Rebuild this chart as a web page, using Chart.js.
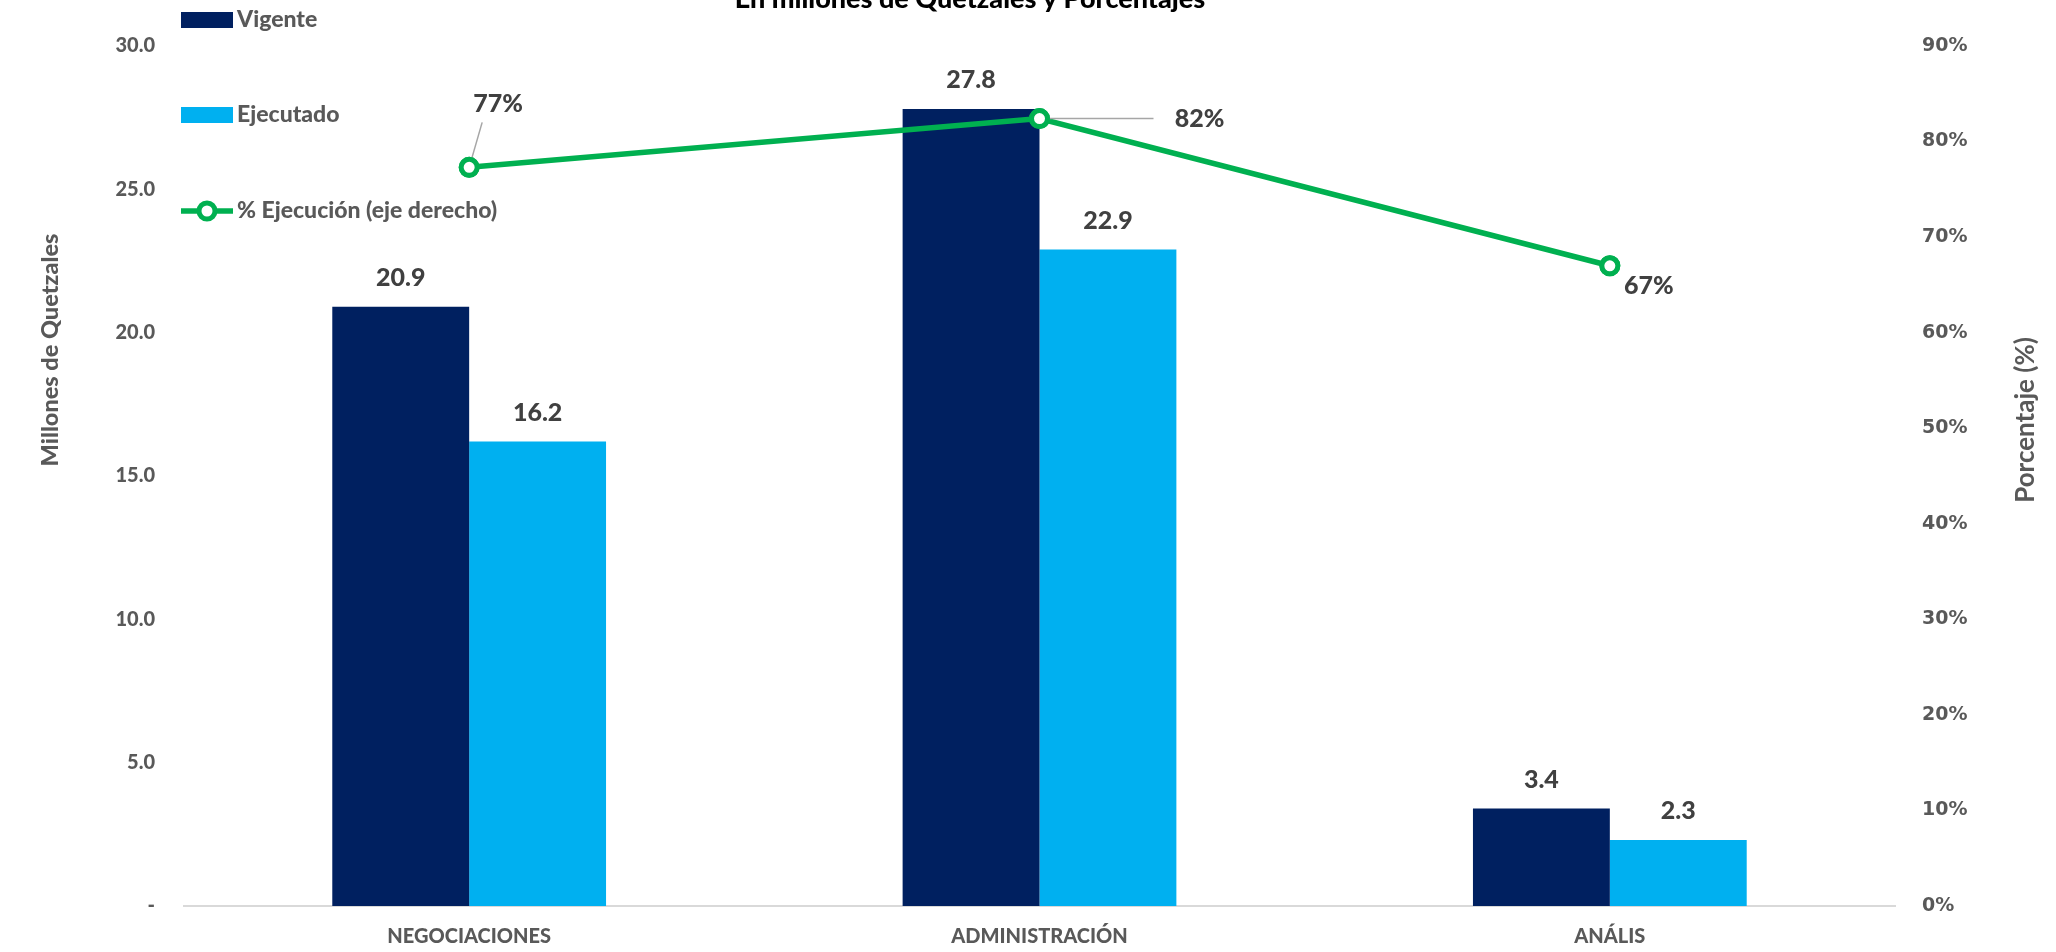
<!DOCTYPE html>
<html>
<head>
<meta charset="utf-8">
<script src="https://cdn.jsdelivr.net/npm/chart.js@4.4.1/dist/chart.umd.min.js"></script>
<style>
  html, body { margin: 0; padding: 0; background: #fff; }
  #wrap { width: 2056px; height: 952px; position: relative; }
</style>
</head>
<body>
<div id="wrap"><canvas id="chart"></canvas></div>
<script>
// Data
const categories = ['NEGOCIACIONES', 'ADMINISTRACIÓN', 'ANÁLIS'];
const vigente = [20.9, 27.8, 3.4];
const ejecutado = [16.2, 22.9, 2.3];
const ejecucionPct = [77.3, 82.4, 67.0];
const seriesNames = ['Vigente', 'Ejecutado', '% Ejecución (eje derecho)'];
const chartTitle = 'En millones de Quetzales y Porcentajes';
const leftTitle = 'Millones de Quetzales';
const rightTitle = 'Porcentaje (%)';

// Colors
const NAVY = '#002060';
const CYAN = '#00B0F0';
const GREEN = '#00B050';
const GREY_TXT = '#595959';
const DARK_TXT = '#404040';
const FONT = 'Lato, "Open Sans", sans-serif';

// offsets of the % labels relative to their point, and leader line ends
const pctLabelOffsets = [[29, -63], [160, 0], [39, 20]];
const pctLeaders = [[13, -45], [114, 0], null];

const decorPlugin = {
    id: 'decor',
    afterDatasetsDraw(chart) {
        const ctx = chart.ctx;
        ctx.save();

        // bar value labels
        ctx.font = `900 25px ${FONT}`;
        ctx.fillStyle = DARK_TXT;
        ctx.textAlign = 'center';
        ctx.textBaseline = 'middle';
        [1, 2].forEach(i => {
            chart.getDatasetMeta(i).data.forEach((bar, j) => {
                const v = chart.data.datasets[i].data[j];
                ctx.fillText(v.toFixed(1), bar.x, bar.y - 29);
            });
        });

        // % labels with leader lines
        chart.getDatasetMeta(0).data.forEach((pt, j) => {
            const lead = pctLeaders[j];
            if (lead) {
                ctx.strokeStyle = '#A6A6A6';
                ctx.lineWidth = 1.5;
                ctx.beginPath();
                ctx.moveTo(pt.x, pt.y);
                ctx.lineTo(pt.x + lead[0], pt.y + lead[1]);
                ctx.stroke();
            }
            const off = pctLabelOffsets[j];
            const v = chart.data.datasets[0].data[j];
            ctx.fillText(Math.round(v) + '%', pt.x + off[0], pt.y + off[1]);
        });
        // redraw points on top of leader lines
        chart.getDatasetMeta(0).data.forEach(pt => pt.draw(ctx));
        ctx.restore();
    },
    afterDraw(chart) {
        const ctx = chart.ctx;
        const area = chart.chartArea;
        ctx.save();

        // title (partly cut at the top)
        ctx.font = `900 27px ${FONT}`;
        ctx.fillStyle = '#000';
        ctx.textAlign = 'center';
        ctx.textBaseline = 'alphabetic';
        ctx.fillText(chartTitle, 970, 8);

        // axis titles
        ctx.fillStyle = GREY_TXT;
        ctx.textBaseline = 'middle';
        ctx.save();
        ctx.translate(50, 350);
        ctx.rotate(-Math.PI / 2);
        ctx.font = `900 23.5px ${FONT}`;
        ctx.fillText(leftTitle, 0, 0);
        ctx.restore();
        ctx.save();
        ctx.translate(2026, 420);
        ctx.rotate(-Math.PI / 2);
        ctx.font = `bold 26px ${FONT}`;
        ctx.fillText(rightTitle, 0, 0);
        ctx.restore();

        // legend (inside the plot, top-left)
        const lx = area.left - 3;
        const rows = [20, 115, 211];
        ctx.font = `900 23px ${FONT}`;
        ctx.textAlign = 'left';
        const order = [1, 2, 0];
        order.forEach((di, k) => {
            const ds = chart.data.datasets[di];
            const y = rows[k];
            if (ds.type === 'line') {
                ctx.strokeStyle = ds.borderColor;
                ctx.lineWidth = ds.borderWidth;
                ctx.beginPath();
                ctx.moveTo(lx, y);
                ctx.lineTo(lx + 52, y);
                ctx.stroke();
                ctx.beginPath();
                ctx.fillStyle = '#fff';
                ctx.lineWidth = ds.pointBorderWidth;
                ctx.arc(lx + 26, y, ds.pointRadius, 0, Math.PI * 2);
                ctx.fill();
                ctx.stroke();
            } else {
                ctx.fillStyle = ds.backgroundColor;
                ctx.fillRect(lx, y - 8, 52, 16);
            }
            ctx.fillStyle = GREY_TXT;
            ctx.fillText(ds.label, lx + 56, y);
        });
        ctx.restore();
    }
};

const ctx = document.getElementById('chart');

new Chart(ctx, {
    data: {
        labels: categories,
        datasets: [
            {
                type: 'line',
                label: seriesNames[2],
                data: ejecucionPct,
                yAxisID: 'y2',
                borderColor: GREEN,
                borderWidth: 5.5,
                pointRadius: 8,
                pointBorderWidth: 5,
                pointBackgroundColor: '#fff',
                pointBorderColor: GREEN,
                tension: 0,
                order: 0
            },
            {
                type: 'bar',
                label: seriesNames[0],
                data: vigente,
                yAxisID: 'y',
                backgroundColor: NAVY,
                categoryPercentage: 0.48,
                barPercentage: 1.0,
                order: 1
            },
            {
                type: 'bar',
                label: seriesNames[1],
                data: ejecutado,
                yAxisID: 'y',
                backgroundColor: CYAN,
                categoryPercentage: 0.48,
                barPercentage: 1.0,
                order: 2
            }
        ]
    },
    options: {
        responsive: true,
        maintainAspectRatio: false,
        animation: false,
        layout: { padding: { top: 46, left: 0, right: 0, bottom: 0 } },
        plugins: {
            legend: { display: false },
            title: { display: false },
            tooltip: { enabled: false }
        },
        scales: {
            x: {
                grid: { display: false, drawTicks: false },
                border: { display: true, color: '#D9D9D9', width: 2 },
                ticks: {
                    padding: 19,
                    color: GREY_TXT,
                    font: { family: FONT, size: 20, weight: '900' }
                },
                afterFit: s => { s.height = 46; }
            },
            y: {
                position: 'left',
                min: 0,
                max: 30,
                grid: { display: false, drawTicks: false },
                border: { display: false },
                ticks: {
                    stepSize: 5,
                    padding: 29,
                    color: GREY_TXT,
                    font: { family: FONT, size: 20, weight: '900' },
                    callback: v => v === 0 ? '-' : v.toFixed(1)
                },
                afterFit: s => { s.width = 184; }
            },
            y2: {
                position: 'right',
                min: 0,
                max: 90,
                grid: { display: false, drawTicks: false },
                border: { display: false },
                ticks: {
                    stepSize: 10,
                    padding: 27,
                    color: GREY_TXT,
                    font: { family: '"DejaVu Sans", sans-serif', size: 19, weight: 'bold' },
                    callback: v => v + '%'
                },
                afterFit: s => { s.width = 161; }
            }
        }
    },
    plugins: [decorPlugin]
});
</script>
</body>
</html>
